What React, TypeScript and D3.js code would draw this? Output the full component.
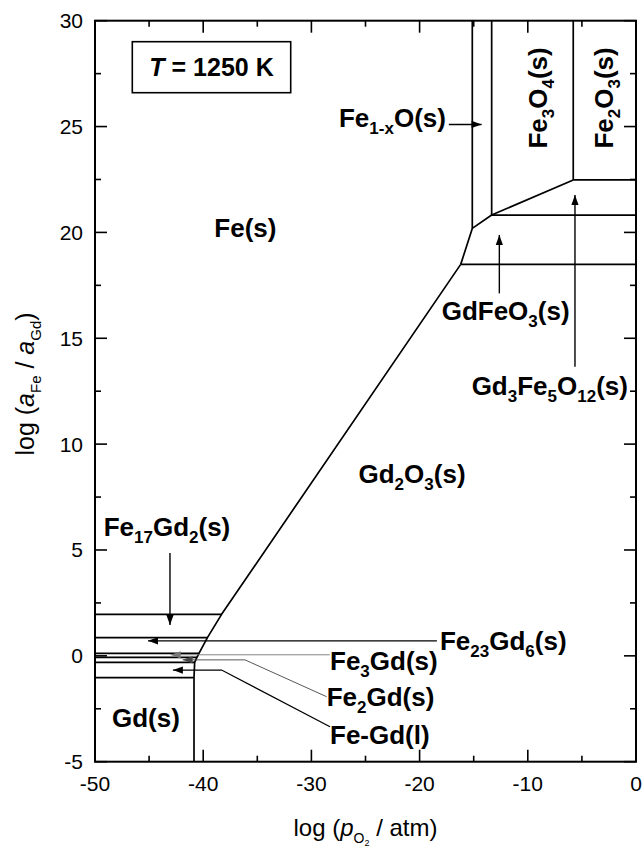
import React from 'react';
import * as d3 from 'd3';

const W = 644;
const H = 851;
const PLOT = { left: 95, right: 636, top: 20.7, bottom: 761.7 };

const xDomain: [number, number] = [-50, 0];
const yDomain: [number, number] = [-5, 30];
const xMajorTicks = [-50, -40, -30, -20, -10, 0];
const xMinorTicks = [-45, -35, -25, -15, -5];
const yMajorTicks = [-5, 0, 5, 10, 15, 20, 25, 30];
const yMinorTicks = [-2.5, 2.5, 7.5, 12.5, 17.5, 22.5, 27.5];

type Pt = [number, number];

// Fe(s)/Gd2O3 boundary continuing down through intermetallics to Gd(s)
const gd2o3Boundary: Pt[] = [
  [-16.2, 18.49], [-38.3, 1.96], [-39.61, 0.86], [-40.39, 0.12],
  [-40.58, -0.07], [-40.79, -0.31], [-40.85, -1.03], [-40.85, -5],
];
// oxide chain at top right
const oxideChain: Pt[] = [
  [-16.2, 18.49], [-15.13, 20.19], [-13.34, 20.82], [-5.8, 22.48], [0, 22.48],
];
const oxideLines: Pt[][] = [
  [[-15.13, 20.19], [-15.13, 30]],
  [[-13.34, 20.82], [-13.34, 30]],
  [[-5.8, 22.48], [-5.8, 30]],
  [[-16.2, 18.49], [0, 18.49]],
  [[-13.34, 20.82], [0, 20.82]],
];
// intermetallic horizontal boundaries (y) and where they end (x)
const intermetallicY = [1.96, 0.86, 0.12, -0.07, -0.31, -1.03];
const intermetallicEndX = [-38.3, -39.61, -40.39, -40.58, -40.79, -40.85];

// annotation arrows (last point = arrow tip)
const arrows: { pts: Pt[]; color: string; w: number }[] = [
  { pts: [[-43.07, 4.86], [-43.07, 1.46]], color: '#000', w: 1.4 },
  { pts: [[-18.4, 0.71], [-45.1, 0.71]], color: '#000', w: 1.2 },
  { pts: [[-28.3, 0.05], [-43.0, 0.05]], color: '#777', w: 0.9 },
  { pts: [[-28.59, -1.93], [-36.14, -0.19], [-41.9, -0.19]], color: '#444', w: 0.9 },
  { pts: [[-28.28, -3.35], [-38.3, -0.67], [-42.8, -0.67]], color: '#000', w: 1.3 },
  { pts: [[-17.3, 25.1], [-14.27, 25.1]], color: '#000', w: 1.4 },
  { pts: [[-12.63, 17.12], [-12.63, 19.88]], color: '#000', w: 1.4 },
  { pts: [[-5.64, 13.66], [-5.64, 21.77]], color: '#000', w: 1.4 },
];

type Part = [string, 'n' | 's'];
const labels: { x: number; y: number; anchor: string; parts: Part[]; rotate?: boolean }[] = [
  { x: -36.1, y: 19.8, anchor: 'middle', parts: [['Fe(s)', 'n']] },
  { x: -49.2, y: 5.66, anchor: 'start', parts: [['Fe', 'n'], ['17', 's'], ['Gd', 'n'], ['2', 's'], ['(s)', 'n']] },
  { x: -20.7, y: 8.16, anchor: 'middle', parts: [['Gd', 'n'], ['2', 's'], ['O', 'n'], ['3', 's'], ['(s)', 'n']] },
  { x: -45.3, y: -3.36, anchor: 'middle', parts: [['Gd(s)', 'n']] },
  { x: -27.45, y: 25.0, anchor: 'start', parts: [['Fe', 'n'], ['1-x', 's'], ['O(s)', 'n']] },
  { x: -17.96, y: 15.86, anchor: 'start', parts: [['GdFeO', 'n'], ['3', 's'], ['(s)', 'n']] },
  { x: -15.19, y: 12.32, anchor: 'start', parts: [['Gd', 'n'], ['3', 's'], ['Fe', 'n'], ['5', 's'], ['O', 'n'], ['12', 's'], ['(s)', 'n']] },
  { x: -18.12, y: 0.27, anchor: 'start', parts: [['Fe', 'n'], ['23', 's'], ['Gd', 'n'], ['6', 's'], ['(s)', 'n']] },
  { x: -28.28, y: -0.67, anchor: 'start', parts: [['Fe', 'n'], ['3', 's'], ['Gd(s)', 'n']] },
  { x: -28.59, y: -2.37, anchor: 'start', parts: [['Fe', 'n'], ['2', 's'], ['Gd(s)', 'n']] },
  { x: -28.28, y: -4.17, anchor: 'start', parts: [['Fe-Gd(l)', 'n']] },
  { x: -8.25, y: 26.35, anchor: 'middle', rotate: true, parts: [['Fe', 'n'], ['3', 's'], ['O', 'n'], ['4', 's'], ['(s)', 'n']] },
  { x: -2.13, y: 26.35, anchor: 'middle', rotate: true, parts: [['Fe', 'n'], ['2', 's'], ['O', 'n'], ['3', 's'], ['(s)', 'n']] },
];

const FONT = '"Liberation Sans", Arial, Helvetica, sans-serif';
const LABEL_SIZE = 26;
const SUB_SIZE = 17;
const SUB_SHIFT = 7;

function RichText({ parts }: { parts: Part[] }) {
  const out: React.ReactNode[] = [];
  let cur: 'n' | 's' = 'n';
  parts.forEach(([t, k], i) => {
    let dy = 0;
    if (k === 's' && cur === 'n') dy = SUB_SHIFT;
    if (k === 'n' && cur === 's') dy = -SUB_SHIFT;
    cur = k;
    out.push(
      <tspan key={i} dy={dy} fontSize={k === 's' ? SUB_SIZE : LABEL_SIZE}>{t}</tspan>
    );
  });
  return <>{out}</>;
}

export default function App() {
  const x = d3.scaleLinear().domain(xDomain).range([PLOT.left, PLOT.right]);
  const y = d3.scaleLinear().domain(yDomain).range([PLOT.bottom, PLOT.top]);
  const line = d3.line<Pt>().x((d) => x(d[0])).y((d) => y(d[1]));

  const arrowHead = (pts: Pt[], color: string) => {
    const a = pts[pts.length - 2];
    const b = pts[pts.length - 1];
    const ax = x(a[0]), ay = y(a[1]), bx = x(b[0]), by = y(b[1]);
    const len = Math.hypot(bx - ax, by - ay);
    const ux = (bx - ax) / len, uy = (by - ay) / len;
    const L = 10, Wd = 3.6;
    const p1 = [bx - ux * L - uy * Wd, by - uy * L + ux * Wd];
    const p2 = [bx - ux * L + uy * Wd, by - uy * L - ux * Wd];
    return <polygon points={`${bx},${by} ${p1[0]},${p1[1]} ${p2[0]},${p2[1]}`} fill={color} />;
  };

  const MAJ = 12, MIN = 6;

  return (
    <svg width={W} height={H} style={{ display: 'block', position: 'absolute', left: 0, top: 0, background: '#fff' }}
      fontFamily={FONT}>
      <rect x={0} y={0} width={W} height={H} fill="#fff" />
      {/* phase boundaries */}
      <g fill="none" stroke="#000" strokeWidth={1.7} strokeLinejoin="round">
        <path d={line(gd2o3Boundary) || ''} />
        <path d={line(oxideChain) || ''} />
        {oxideLines.map((l, i) => <path key={i} d={line(l) || ''} />)}
        {intermetallicY.map((v, i) => (
          <path key={'h' + i} d={line([[-50, v], [intermetallicEndX[i], v]]) || ''} />
        ))}
      </g>
      {/* arrows */}
      {arrows.map((a, i) => (
        <g key={i}>
          <path d={line(a.pts) || ''} fill="none" stroke={a.color} strokeWidth={a.w} />
          {arrowHead(a.pts, a.color)}
        </g>
      ))}
      {/* frame */}
      <rect x={PLOT.left} y={PLOT.top} width={PLOT.right - PLOT.left} height={PLOT.bottom - PLOT.top}
        fill="none" stroke="#000" strokeWidth={2} />
      {/* ticks */}
      <g stroke="#000" strokeWidth={1.6}>
        {xMajorTicks.map((t) => (
          <g key={'xm' + t}>
            <line x1={x(t)} x2={x(t)} y1={PLOT.bottom} y2={PLOT.bottom - MAJ} />
            <line x1={x(t)} x2={x(t)} y1={PLOT.top} y2={PLOT.top + MAJ} />
          </g>
        ))}
        {xMinorTicks.map((t) => (
          <g key={'xn' + t}>
            <line x1={x(t)} x2={x(t)} y1={PLOT.bottom} y2={PLOT.bottom - MIN} />
            <line x1={x(t)} x2={x(t)} y1={PLOT.top} y2={PLOT.top + MIN} />
          </g>
        ))}
        {yMajorTicks.map((t) => (
          <g key={'ym' + t}>
            <line x1={PLOT.left} x2={PLOT.left + MAJ} y1={y(t)} y2={y(t)} />
            <line x1={PLOT.right} x2={PLOT.right - MAJ} y1={y(t)} y2={y(t)} />
          </g>
        ))}
        {yMinorTicks.map((t) => (
          <g key={'yn' + t}>
            <line x1={PLOT.left} x2={PLOT.left + MIN} y1={y(t)} y2={y(t)} />
            <line x1={PLOT.right} x2={PLOT.right - MIN} y1={y(t)} y2={y(t)} />
          </g>
        ))}
      </g>
      {/* tick labels */}
      <g fontSize={21} fill="#000">
        {xMajorTicks.map((t) => (
          <text key={'xl' + t} x={x(t)} y={PLOT.bottom + 29} textAnchor="middle">{t}</text>
        ))}
        {yMajorTicks.map((t) => (
          <text key={'yl' + t} x={PLOT.left - 12} y={y(t) + 7.5} textAnchor="end">{t}</text>
        ))}
      </g>
      {/* axis titles */}
      <text x={(PLOT.left + PLOT.right) / 2} y={836} textAnchor="middle" fontSize={24}>
        <tspan>log (</tspan>
        <tspan fontStyle="italic">p</tspan>
        <tspan fontSize={14} dy={7}>O</tspan>
        <tspan fontSize={9} dy={3}>2</tspan>
        <tspan dy={-10}> / atm)</tspan>
      </text>
      <text transform={`translate(34,384) rotate(-90)`} textAnchor="middle" fontSize={25}>
        <tspan>log (</tspan>
        <tspan fontStyle="italic">a</tspan>
        <tspan fontSize={15} dy={7}>Fe</tspan>
        <tspan dy={-7}> / </tspan>
        <tspan fontStyle="italic">a</tspan>
        <tspan fontSize={15} dy={7}>Gd</tspan>
        <tspan dy={-7}>)</tspan>
      </text>
      {/* region labels */}
      <g fontWeight="bold" fill="#000" fontSize={LABEL_SIZE}>
        {labels.map((l, i) => (
          l.rotate ? (
            <text key={i} transform={`translate(${x(l.x)},${y(l.y)}) rotate(-90)`} textAnchor={l.anchor}>
              <RichText parts={l.parts} />
            </text>
          ) : (
            <text key={i} x={x(l.x)} y={y(l.y)} textAnchor={l.anchor}>
              <RichText parts={l.parts} />
            </text>
          )
        ))}
      </g>
      {/* temperature box */}
      <rect x={132.3} y={41.7} width={158.4} height={51} fill="#fff" stroke="#000" strokeWidth={1.6} />
      <text x={211.5} y={76} textAnchor="middle" fontSize={25} fontWeight="bold">
        <tspan fontStyle="italic">T</tspan>
        <tspan> = 1250 K</tspan>
      </text>
    </svg>
  );
}
